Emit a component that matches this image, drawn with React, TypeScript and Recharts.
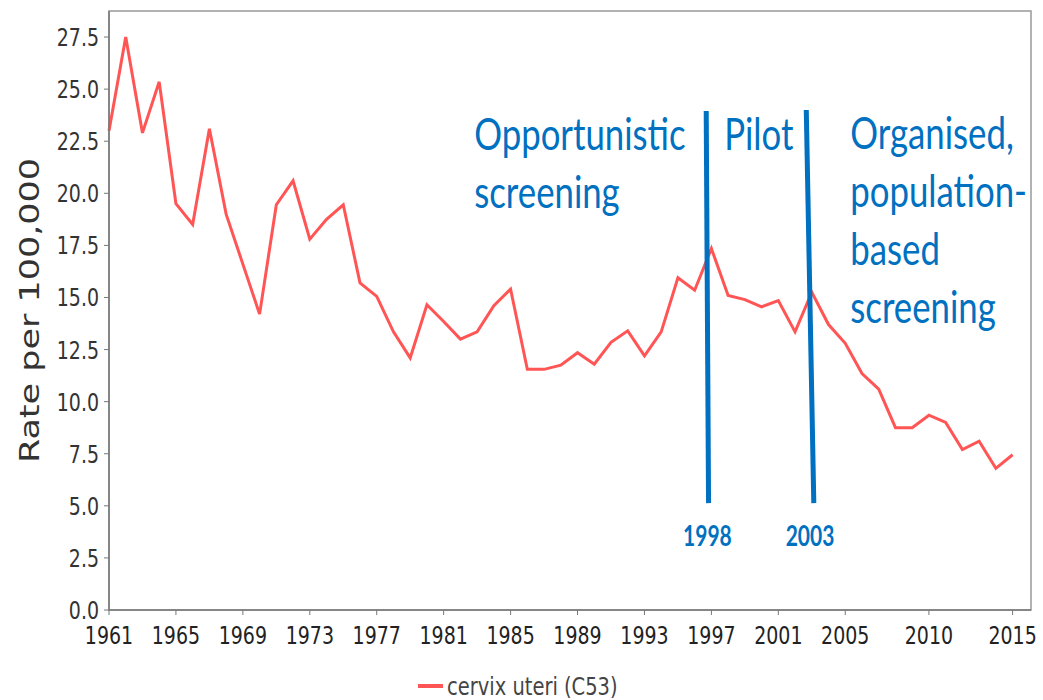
import {
  LineChart, Line, XAxis, YAxis, Legend, ReferenceLine, ReferenceArea,
} from "recharts";

const YEARS = [
  1961, 1962, 1963, 1964, 1965, 1966, 1967, 1968, 1969, 1970,
  1971, 1972, 1973, 1974, 1975, 1976, 1977, 1978, 1979, 1980,
  1981, 1982, 1983, 1984, 1985, 1986, 1987, 1988, 1989, 1990,
  1991, 1992, 1993, 1994, 1995, 1996, 1997, 1998, 1999, 2000,
  2001, 2002, 2003, 2004, 2005, 2006, 2007, 2008, 2009, 2010,
  2011, 2012, 2013, 2014, 2015,
];

const RATES = [
  23.0, 27.5, 22.9, 25.35, 19.5, 18.5, 23.1, 19.0, 16.6, 14.2,
  19.45, 20.6, 17.8, 18.75, 19.45, 15.7, 15.05, 13.35, 12.1, 14.65,
  13.85, 13.0, 13.35, 14.6, 15.4, 11.55, 11.55, 11.75, 12.35, 11.8,
  12.85, 13.4, 12.2, 13.35, 15.95, 15.35, 17.35, 15.1, 14.9, 14.55,
  14.85, 13.35, 15.25, 13.7, 12.8, 11.35, 10.6, 8.75, 8.75, 9.35,
  9.0, 7.7, 8.1, 6.8, 7.45,
];

const X_TICKS = [1961, 1965, 1969, 1973, 1977, 1981, 1985, 1989, 1993, 1997, 2001, 2005, 2010, 2015];
const Y_TICKS = [0, 2.5, 5, 7.5, 10, 12.5, 15, 17.5, 20, 22.5, 25, 27.5];

// hand-drawn marker lines: [top, bottom] in data units
const PILOT_LINE = [{ x: 1996.69, y: 23.95 }, { x: 1996.83, y: 5.13 }];
const ORGANISED_LINE = [{ x: 2002.67, y: 24.0 }, { x: 2003.12, y: 5.13 }];

const SERIES_NAME = "cervix uteri (C53)";
const RED = "#ff5555";
const BLUE = "#0070c0";
const SX = 0.76; // source image is squeezed horizontally

const data = YEARS.map((year, i) => ({ year, rate: RATES[i] }));

const XTick = ({ x, y, payload }: any) => (
  <text transform={`translate(${x},${y}) scale(${SX},1)`} textAnchor="middle" dy="0.75em"
    fontSize={25} fontFamily="DejaVu Sans" fill="#222">
    {payload.value}
  </text>
);

const YTick = ({ x, y, payload }: any) => (
  <text transform={`translate(${x},${y}) scale(${SX},1)`} textAnchor="end" dy="0.36em"
    fontSize={25} fontFamily="DejaVu Sans" fill="#333">
    {Number(payload.value).toFixed(1)}
  </text>
);

const YLabel = ({ viewBox }: any) => (
  <text transform={`translate(${viewBox.x + 30},${viewBox.y + viewBox.height / 2}) rotate(-90) scale(1,0.75)`}
    textAnchor="middle" dy="0.36em" fontSize={35} fontFamily="DejaVu Sans" fill="#333">
    Rate per 100,000
  </text>
);

const AnnText = ({ x, y, lines }: { x: number; y: number; lines: string[] }) => (
  <g>
    {lines.map((t, i) => (
      <text key={t} transform={`translate(${x},${y + i * 58}) scale(0.79,1)`}
        fontSize={44} fontFamily="Lato" fill={BLUE}>
        {t}
      </text>
    ))}
  </g>
);

const YearText = ({ x, y, children }: any) => (
  <text transform={`translate(${x},${y}) scale(0.75,1)`} textAnchor="middle"
    fontSize={28} fontWeight="bold" fontFamily="Lato" fill={BLUE}>
    {children}
  </text>
);

const pilotLabel = ({ viewBox }: any) => {
  const { x, y, width, height } = viewBox;
  return (
    <g>
      <AnnText x={x - 232} y={y + 39} lines={["Opportunistic", "screening"]} />
      <AnnText x={x + 18} y={y + 39} lines={["Pilot"]} />
      <YearText x={x + width / 2} y={y + height + 43}>1998</YearText>
    </g>
  );
};

const organisedLabel = ({ viewBox }: any) => {
  const { x, y, width, height } = viewBox;
  return (
    <g>
      <AnnText x={x + 44} y={y + 39} lines={["Organised,", "population-", "based", "screening"]} />
      <YearText x={x + width / 2} y={y + height + 43}>2003</YearText>
    </g>
  );
};

const LegendContent = () => (
  <svg width={1043} height={50} style={{ display: "block" }}>
    <g transform="translate(521,36)">
      <line x1={-103} x2={-78} y1={0} y2={0} stroke={RED} strokeWidth={4} />
      <text transform={`translate(-74,0) scale(0.78,1)`} dy="0.36em" fontSize={25}
        fontFamily="DejaVu Sans" fill="#444">
        {SERIES_NAME}
      </text>
    </g>
  </svg>
);

export default function App() {
  return (
    <div style={{ position: "absolute", left: 0, top: 0, width: 1043, height: 700, background: "#fff" }}>
      <LineChart width={1043} height={700} data={data} margin={{ top: 11, right: 12, left: 0, bottom: 0 }}>
        <ReferenceArea x1={1961} x2={2016.1} y1={0} y2={28.75} fill="none" stroke="#999" strokeWidth={1.5} />
        <XAxis dataKey="year" type="number" domain={[1961, 2016.1]} ticks={X_TICKS} interval={0}
          height={40} tickSize={5} tickMargin={10} tick={<XTick />}
          axisLine={{ stroke: "#777", strokeWidth: 1.5 }} tickLine={{ stroke: "#777" }} />
        <YAxis type="number" domain={[0, 28.75]} ticks={Y_TICKS} width={109}
          tickSize={5} tickMargin={5} tick={<YTick />} label={<YLabel />}
          axisLine={{ stroke: "#777", strokeWidth: 1.5 }} tickLine={{ stroke: "#777" }} />
        <Legend verticalAlign="bottom" content={<LegendContent />}
          wrapperStyle={{ left: 0, bottom: 0, width: 1043, height: 50 }} />
        <Line type="linear" dataKey="rate" name={SERIES_NAME} stroke={RED} strokeWidth={3}
          dot={false} isAnimationActive={false} />
        <ReferenceLine segment={PILOT_LINE} stroke={BLUE} strokeWidth={5} label={pilotLabel} />
        <ReferenceLine segment={ORGANISED_LINE} stroke={BLUE} strokeWidth={5} label={organisedLabel} />
      </LineChart>
    </div>
  );
}
